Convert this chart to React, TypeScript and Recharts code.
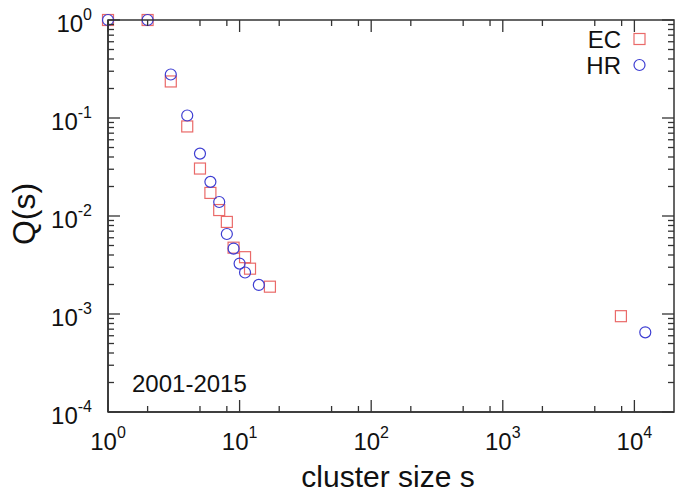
import React from 'react'
import { ScatterChart, Scatter, XAxis, YAxis } from 'recharts'

// cluster size s vs Q(s)
const ecSize = [1, 2, 3, 4, 5, 6, 7, 8, 9, 11, 12, 17, 7900]
const ecQ = [1, 1, 0.236, 0.082, 0.0305, 0.0172, 0.0115, 0.0087, 0.00475, 0.0038, 0.0029, 0.0019, 0.00095]
const hrSize = [1, 2, 3, 4, 5, 6, 7, 8, 9, 10, 11, 14, 12100]
const hrQ = [1, 1, 0.278, 0.106, 0.0433, 0.0223, 0.0139, 0.00655, 0.00465, 0.00327, 0.00265, 0.00198, 0.00065]

const xDomain = [1, 20000]
const yDomain = [0.0001, 1]

const xTicks = [1, 2, 5, 8, 10, 20, 50, 80, 100, 200, 500, 800, 1000, 2000, 5000, 8000, 10000]
const xMajor = [1, 10, 100, 1000, 10000]
const xMajorExp = ['0', '1', '2', '3', '4']

const yTicks = [
  0.0001, 0.0002, 0.0003, 0.0004, 0.0005, 0.0006, 0.0007, 0.0008, 0.0009,
  0.001, 0.002, 0.003, 0.004, 0.005, 0.006, 0.007, 0.008, 0.009,
  0.01, 0.02, 0.03, 0.04, 0.05, 0.06, 0.07, 0.08, 0.09,
  0.1, 0.2, 0.3, 0.4, 0.5, 0.6, 0.7, 0.8, 0.9,
  1,
]
const yMajor = [0.0001, 0.001, 0.01, 0.1, 1]
const yMajorExp = ['-4', '-3', '-2', '-1', '0']

const seriesNames = ['EC', 'HR']
const periodLabel = '2001-2015'
const xTitle = 'cluster size s'
const yTitle = 'Q(s)'

const W = 675
const H = 496
// plot box that the margins and axis sizes below produce
const PLOT_LEFT = 108
const PLOT_RIGHT = 674
const PLOT_TOP = 20
const PLOT_BOTTOM = 412

const FONT = "'Liberation Sans', Arial, Helvetica, sans-serif"
const AXIS = '#333'
const TEXT = '#111'
const EC_COLOR = '#ea6a69'
const HR_COLOR = '#3d3dd2'

const ecData = ecSize.map((s, i) => ({ s, q: ecQ[i] }))
const hrData = hrSize.map((s, i) => ({ s, q: hrQ[i] }))

// same log mapping as the chart axes, used for the frame's inward ticks
const lx = (v: number) =>
  PLOT_LEFT +
  ((PLOT_RIGHT - PLOT_LEFT) * (Math.log10(v) - Math.log10(xDomain[0]))) /
    (Math.log10(xDomain[1]) - Math.log10(xDomain[0]))
const ly = (v: number) =>
  PLOT_BOTTOM -
  ((PLOT_BOTTOM - PLOT_TOP) * (Math.log10(v) - Math.log10(yDomain[0]))) /
    (Math.log10(yDomain[1]) - Math.log10(yDomain[0]))

// decade labels with superscript exponents
const BottomLabel = (props: any) => {
  const { x, payload } = props
  const idx = xMajor.indexOf(payload.value)
  if (idx < 0) return <g />
  return (
    <text x={x} y={450} textAnchor="middle" fontFamily={FONT} fontSize={24} fill={TEXT}>
      <tspan>10</tspan>
      <tspan dy={-12} fontSize={16}>{xMajorExp[idx]}</tspan>
    </text>
  )
}

const LeftLabel = (props: any) => {
  const { y, payload } = props
  const idx = yMajor.indexOf(payload.value)
  if (idx < 0) return <g />
  return (
    <text x={92} y={y + 12} textAnchor="end" fontFamily={FONT} fontSize={24} fill={TEXT}>
      <tspan>10</tspan>
      <tspan dy={-12} fontSize={16}>{yMajorExp[idx]}</tspan>
    </text>
  )
}

const Square = (p: any) => (
  <rect x={p.cx - 5.5} y={p.cy - 5.5} width={11} height={11} fill="none" stroke={EC_COLOR} strokeWidth={1.2} />
)
const Circle = (p: any) => <circle cx={p.cx} cy={p.cy} r={5.5} fill="none" stroke={HR_COLOR} strokeWidth={1.2} />

// frame, ticks, titles, period note and key drawn on top of the chart
const Overlay = () => (
  <svg width={W} height={H} style={{ position: 'absolute', left: 0, top: 0, pointerEvents: 'none' }}>
    <rect
      x={PLOT_LEFT}
      y={PLOT_TOP}
      width={PLOT_RIGHT - PLOT_LEFT}
      height={PLOT_BOTTOM - PLOT_TOP}
      fill="none"
      stroke={AXIS}
      strokeWidth={1.5}
    />
    {xTicks.map((v) => {
      const x = lx(v)
      const len = xMajor.includes(v) ? 12 : 6
      return (
        <g key={`x${v}`}>
          <path d={`M${x},${PLOT_BOTTOM}V${PLOT_BOTTOM - len}`} stroke={AXIS} strokeWidth={1.3} fill="none" />
          <path d={`M${x},${PLOT_TOP}V${PLOT_TOP + len}`} stroke={AXIS} strokeWidth={1.3} fill="none" />
        </g>
      )
    })}
    {yTicks.map((v) => {
      const y = ly(v)
      const len = yMajor.includes(v) ? 12 : 6
      return (
        <g key={`y${v}`}>
          <path d={`M${PLOT_LEFT},${y}H${PLOT_LEFT + len}`} stroke={AXIS} strokeWidth={1.3} fill="none" />
          <path d={`M${PLOT_RIGHT},${y}H${PLOT_RIGHT - len}`} stroke={AXIS} strokeWidth={1.3} fill="none" />
        </g>
      )
    })}
    <text x={388} y={487} textAnchor="middle" fontFamily={FONT} fontSize={30} fill={TEXT}>
      {xTitle}
    </text>
    <text
      x={35}
      y={214}
      textAnchor="middle"
      transform="rotate(-90 35 214)"
      fontFamily={FONT}
      fontSize={32}
      fill={TEXT}
    >
      {yTitle}
    </text>
    <text x={132} y={392} fontFamily={FONT} fontSize={24} fill={TEXT}>
      {periodLabel}
    </text>
    <text x={621} y={48} textAnchor="end" fontFamily={FONT} fontSize={24} fill={TEXT}>{seriesNames[0]}</text>
    <rect x={634} y={33.5} width={11} height={11} fill="none" stroke={EC_COLOR} strokeWidth={1.2} />
    <text x={621} y={74} textAnchor="end" fontFamily={FONT} fontSize={24} fill={TEXT}>{seriesNames[1]}</text>
    <circle cx={639.5} cy={65} r={5.5} fill="none" stroke={HR_COLOR} strokeWidth={1.2} />
  </svg>
)

export default function App() {
  return (
    <div style={{ position: 'absolute', left: 0, top: 0, width: W, height: H, background: '#fff' }}>
      <ScatterChart width={W} height={H} margin={{ top: 20, right: 1, bottom: 24, left: 8 }}>
        <XAxis
          dataKey="s"
          type="number"
          scale="log"
          domain={xDomain}
          ticks={xTicks}
          interval={0}
          tick={<BottomLabel />}
          tickLine={false}
          axisLine={{ stroke: AXIS, strokeWidth: 1.5 }}
          height={60}
        />
        <YAxis
          dataKey="q"
          type="number"
          scale="log"
          domain={yDomain}
          ticks={yTicks}
          interval={0}
          tick={<LeftLabel />}
          tickLine={false}
          axisLine={{ stroke: AXIS, strokeWidth: 1.5 }}
          width={100}
        />
        <Scatter name={seriesNames[0]} data={ecData} shape={<Square />} isAnimationActive={false} />
        <Scatter name={seriesNames[1]} data={hrData} shape={<Circle />} isAnimationActive={false} />
      </ScatterChart>
      <Overlay />
    </div>
  )
}
